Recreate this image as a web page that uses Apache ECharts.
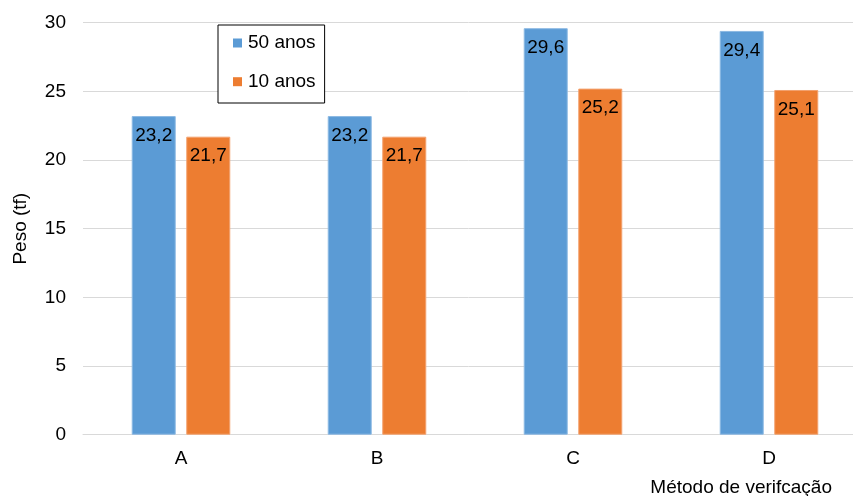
<!DOCTYPE html>
<html>
<head>
<meta charset="utf-8">
<script src="https://cdn.jsdelivr.net/npm/echarts@6/dist/echarts.min.js"></script>
<style>html,body{margin:0;padding:0;background:#fff}#c{width:853px;height:496px}</style>
</head>
<body>
<div id="c"></div>
<script>
const categories = ['A', 'B', 'C', 'D'];
const anos50 = [23.2, 23.2, 29.6, 29.4];
const anos10 = [21.7, 21.7, 25.2, 25.1];
const seriesNames = ['50 anos', '10 anos'];
const yTicks = { min: 0, max: 30, interval: 5 };

const chart = echarts.init(document.getElementById('c'));
const font = 'Liberation Sans, Arial, sans-serif';
const FS = 19;
const lbl = {
  show: true, position: 'insideTop', distance: 10,
  color: '#000', fontSize: FS, fontFamily: font,
  formatter: p => String(p.value).replace('.', ',')
};
chart.setOption({
  animation: false,
  textStyle: { fontFamily: font },
  title: {
    text: 'Método de verifcação', right: 21, top: 478, padding: 0,
    textStyle: { fontSize: FS, fontWeight: 'normal', color: '#000', fontFamily: font, lineHeight: 19 }
  },
  grid: { left: 83, width: 784, top: 22.7, bottom: 61.3, containLabel: false, outerBoundsMode: 'none' },
  legend: {
    orient: 'vertical', left: 218, top: 25,
    itemWidth: 9, itemHeight: 9, itemGap: 19.7,
    padding: [8.5, 9, 11.8, 15],
    borderColor: '#000', borderWidth: 1, backgroundColor: '#fff',
    icon: 'rect',
    itemStyle: { borderWidth: 0 },
    textStyle: { fontSize: FS, color: '#000', fontFamily: font, lineHeight: 19, padding: [0, 0, 0, 1] },
    data: seriesNames
  },
  xAxis: {
    type: 'category', data: categories,
    axisLine: { show: true, lineStyle: { color: '#D9D9D9', width: 1 } },
    axisTick: { show: false },
    axisLabel: { fontSize: FS, color: '#000', fontFamily: font, margin: 15 }
  },
  yAxis: {
    type: 'value', min: yTicks.min, max: yTicks.max, interval: yTicks.interval,
    name: 'Peso (tf)', nameLocation: 'middle', nameGap: 53,
    nameTextStyle: { fontSize: FS, color: '#000', fontFamily: font },
    axisLine: { show: false }, axisTick: { show: false },
    axisLabel: { fontSize: FS, color: '#000', fontFamily: font, margin: 17 },
    splitLine: { lineStyle: { color: '#D9D9D9', width: 1 } }
  },
  series: [
    { name: seriesNames[0], type: 'bar', data: anos50, barWidth: 44, barGap: '24%',
      itemStyle: { color: '#5B9BD5', borderColor: '#8DB9E3', borderWidth: 1 }, label: lbl },
    { name: seriesNames[1], type: 'bar', data: anos10, barWidth: 44,
      itemStyle: { color: '#ED7D31', borderColor: '#F3A26F', borderWidth: 1 }, label: lbl }
  ]
});
</script>
</body>
</html>
